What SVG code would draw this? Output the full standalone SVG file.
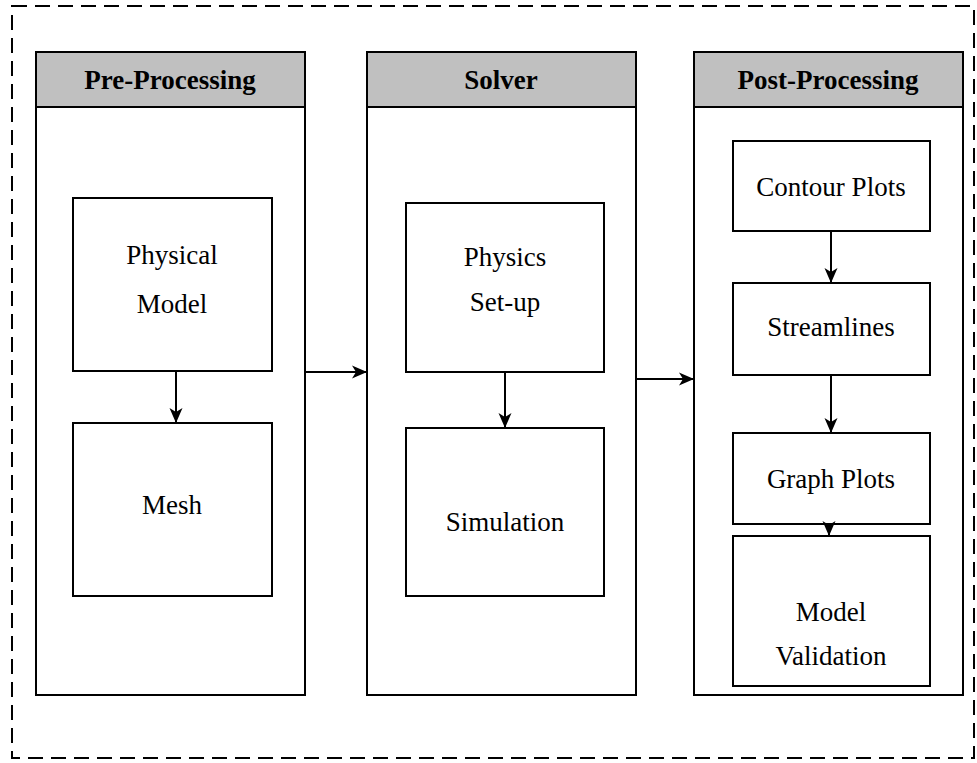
<svg xmlns="http://www.w3.org/2000/svg" width="977" height="763" viewBox="0 0 977 763">
  <style>
    .frame { fill: none; stroke: #000; stroke-width: 2; stroke-dasharray: 15 8; }
    .panel { fill: #fff; stroke: #000; stroke-width: 2; }
    .head { fill: #c0c0c0; stroke: #000; stroke-width: 2; }
    .box { fill: #fff; stroke: #000; stroke-width: 2; }
    .title { font-family: "Liberation Serif", "Times New Roman", serif; font-weight: bold; font-size: 27px; text-anchor: middle; fill: #000; }
    .label { font-family: "Liberation Serif", "Times New Roman", serif; font-size: 27px; text-anchor: middle; fill: #000; }
    .conn { fill: none; stroke: #000; stroke-width: 2; marker-end: url(#arrow); }
  </style>
  <defs>
    <marker id="arrow" viewBox="0 0 15 14" refX="15" refY="7" markerWidth="15" markerHeight="14" markerUnits="userSpaceOnUse" orient="auto">
      <path d="M0,0.5 L15,7 L0,13.5 L4,7 z" fill="#000"/>
    </marker>
  </defs>

  <rect width="977" height="763" fill="#fff"/>

  <!-- outer dashed boundary -->
  <rect class="frame" x="12" y="6" width="962" height="752"/>

  <!-- Pre-Processing column -->
  <g id="pre-processing">
    <rect class="panel" x="36" y="52" width="269" height="643"/>
    <rect class="head" x="36" y="52" width="269" height="55"/>
    <text class="title" x="170" y="89">Pre-Processing</text>
  </g>
  <g id="physical-model">
    <rect class="box" x="73" y="198" width="199" height="173"/>
    <text class="label" x="172" y="264">Physical</text>
    <text class="label" x="172" y="313">Model</text>
  </g>
  <g id="mesh">
    <rect class="box" x="73" y="423" width="199" height="173"/>
    <text class="label" x="172" y="514">Mesh</text>
  </g>

  <!-- Solver column -->
  <g id="solver">
    <rect class="panel" x="367" y="52" width="269" height="643"/>
    <rect class="head" x="367" y="52" width="269" height="55"/>
    <text class="title" x="501" y="89">Solver</text>
  </g>
  <g id="physics-setup">
    <rect class="box" x="406" y="203" width="198" height="169"/>
    <text class="label" x="505" y="266">Physics</text>
    <text class="label" x="505" y="311">Set-up</text>
  </g>
  <g id="simulation">
    <rect class="box" x="406" y="428" width="198" height="168"/>
    <text class="label" x="505" y="531">Simulation</text>
  </g>

  <!-- Post-Processing column -->
  <g id="post-processing">
    <rect class="panel" x="694" y="52" width="269" height="643"/>
    <rect class="head" x="694" y="52" width="269" height="55"/>
    <text class="title" x="828" y="89">Post-Processing</text>
  </g>
  <g id="contour-plots">
    <rect class="box" x="733" y="141" width="197" height="90"/>
    <text class="label" x="831" y="196">Contour Plots</text>
  </g>
  <g id="streamlines">
    <rect class="box" x="733" y="283" width="197" height="92"/>
    <text class="label" x="831" y="336">Streamlines</text>
  </g>
  <g id="graph-plots">
    <rect class="box" x="733" y="433" width="197" height="91"/>
    <text class="label" x="831" y="488">Graph Plots</text>
  </g>
  <g id="model-validation">
    <rect class="box" x="733" y="536" width="197" height="150"/>
    <text class="label" x="831" y="621">Model</text>
    <text class="label" x="831" y="665">Validation</text>
  </g>

  <!-- connectors -->
  <g id="connectors">
    <line class="conn" x1="176" y1="371" x2="176" y2="423"/>
    <line class="conn" x1="505" y1="372" x2="505" y2="428"/>
    <line class="conn" x1="831" y1="231" x2="831" y2="283"/>
    <line class="conn" x1="831" y1="375" x2="831" y2="433"/>
    <line class="conn" x1="829" y1="524" x2="829" y2="536"/>
    <line class="conn" x1="305" y1="372" x2="367" y2="372"/>
    <line class="conn" x1="636" y1="379" x2="694" y2="379"/>
  </g>
</svg>
